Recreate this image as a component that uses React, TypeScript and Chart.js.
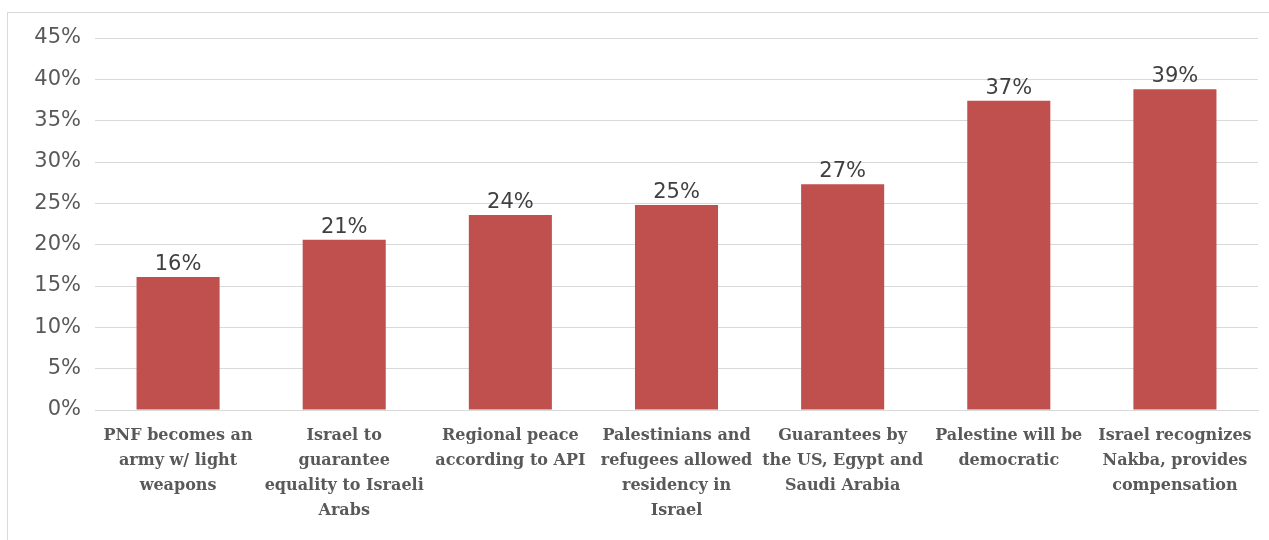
import React, { useEffect, useRef } from "react";
import { Chart, registerables } from "chart.js";

Chart.register(...registerables);

const categories: string[][] = [
  ["PNF becomes an", "army w/ light", "weapons"],
  ["Israel to", "guarantee", "equality to Israeli", "Arabs"],
  ["Regional peace", "according to API"],
  ["Palestinians and", "refugees allowed", "residency in", "Israel"],
  ["Guarantees by", "the US, Egypt and", "Saudi Arabia"],
  ["Palestine will be", "democratic"],
  ["Israel recognizes", "Nakba, provides", "compensation"],
];
const values: number[] = [16.1, 20.6, 23.6, 24.8, 27.3, 37.4, 38.8];
const valueLabels: string[] = ["16%", "21%", "24%", "25%", "27%", "37%", "39%"];
const yMax = 45;
const yStep = 5;

const dataLabelPlugin = {
  id: "dataLabels",
  afterDatasetsDraw(chart: any) {
    const ctx = chart.ctx;
    const meta = chart.getDatasetMeta(0);
    ctx.save();
    ctx.font = "21px 'DejaVu Sans'";
    ctx.fillStyle = "#404040";
    ctx.textAlign = "center";
    ctx.textBaseline = "bottom";
    meta.data.forEach((bar: any, i: number) => {
      ctx.fillText(valueLabels[i], bar.x, bar.y - 2);
    });
    ctx.restore();
  },
};

export default function App() {
  const ref = useRef<HTMLCanvasElement>(null);
  useEffect(() => {
    document.body.style.margin = "0";
    const chart = new Chart(ref.current!, {
      type: "bar",
      data: {
        labels: categories,
        datasets: [
          {
            data: values,
            backgroundColor: "#C0504D",
            borderWidth: 0,
            barPercentage: 0.5,
            categoryPercentage: 1,
          },
        ],
      },
      options: {
        animation: false,
        responsive: false,
        maintainAspectRatio: false,
        layout: { padding: { top: 38, right: 11, left: 0, bottom: 0 } },
        plugins: { legend: { display: false }, tooltip: { enabled: false } },
        scales: {
          x: {
            grid: { display: false, drawTicks: false },
            border: { display: true, color: "#d9d9d9" },
            ticks: {
              autoSkip: false,
              maxRotation: 0,
              minRotation: 0,
              padding: 13,
              color: "#595959",
              font: { family: "'DejaVu Serif'", size: 16, weight: "bold", lineHeight: "25px" },
            },
            afterFit: (s: any) => {
              s.height = 130;
            },
          },
          y: {
            min: 0,
            max: yMax,
            grid: { color: "#d9d9d9", lineWidth: 1, drawTicks: false },
            border: { display: false },
            ticks: {
              stepSize: yStep,
              padding: 14,
              color: "#595959",
              font: { family: "'DejaVu Sans'", size: 21 },
              callback: (v: any) => v + "%",
            },
            afterFit: (s: any) => {
              s.width = 95;
            },
          },
        },
      },
      plugins: [dataLabelPlugin],
    });
    return () => chart.destroy();
  }, []);
  return (
    <div style={{ position: "relative", width: 1269, height: 540, background: "#fff" }}>
      <div
        style={{
          position: "absolute",
          left: 7,
          top: 12,
          width: 1270,
          height: 540,
          border: "1px solid #d9d9d9",
          boxSizing: "border-box",
        }}
      />
      <canvas
        ref={ref}
        width={1269}
        height={540}
        style={{ position: "absolute", left: 0, top: 0, width: 1269, height: 540 }}
      />
    </div>
  );
}
